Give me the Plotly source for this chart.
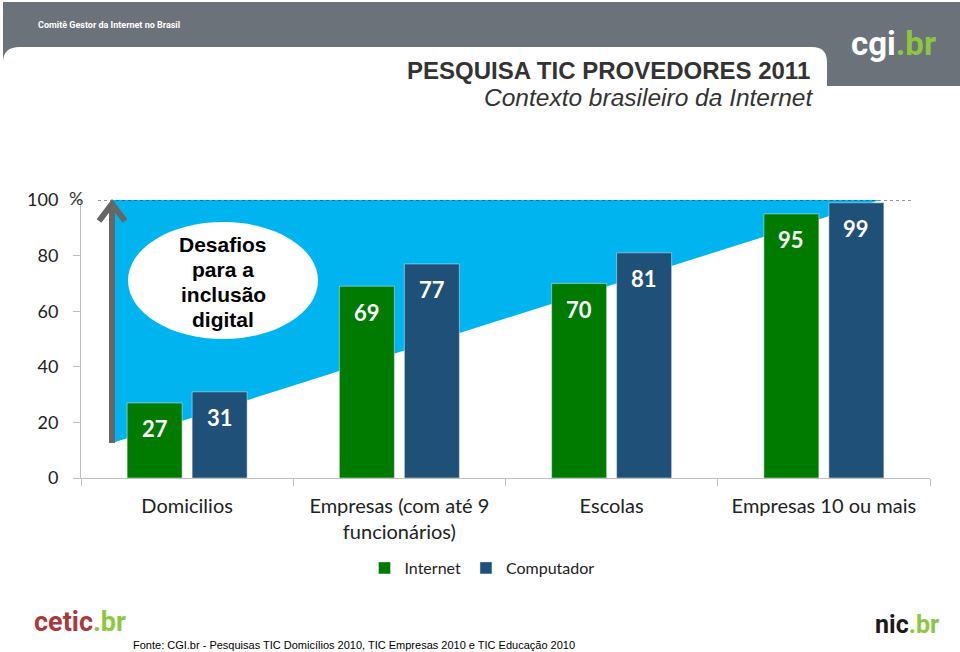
import plotly.graph_objects as go

categories = ["Domicilios", "Empresas (com até 9<br>funcionários)", "Escolas", "Empresas 10 ou mais"]
internet = [27, 69, 70, 95]
computador = [31, 77, 81, 99]
series_names = ["Internet", "Computador"]
y_ticks = [0, 20, 40, 60, 80, 100]

GREEN = "#007b00"
BLUE = "#1f5078"
CYAN = "#00b4f0"
FONT = "Lato, 'Open Sans', sans-serif"
LOGO_FONT = "Roboto, 'Liberation Sans', sans-serif"
ARIAL = "'Liberation Sans', Arial, sans-serif"

# plot area in pixels
L, R, T, B = 81, 930, 200, 478
W, H = 960, 652


def px(x):
    return (x - L) / (R - L)


def py(y):
    return (B - y) / (B - T)


def path(points, close=True):
    s = "M" + " L".join(f"{px(x):.5f},{py(y):.5f}" for x, y in points)
    return s + (" Z" if close else "")


def note(x, y, text, size, color, family=FONT, xanchor="center", yanchor="middle"):
    return dict(x=px(x), y=py(y), xref="paper", yref="paper", showarrow=False, text=text,
                xanchor=xanchor, yanchor=yanchor,
                font=dict(family=family, size=size, color=color))


fig = go.Figure()
fig.add_trace(go.Bar(x=categories, y=internet, name=series_names[0], marker_color=GREEN))
fig.add_trace(go.Bar(x=categories, y=computador, name=series_names[1], marker_color=BLUE))

shapes = []
# header
shapes.append(dict(type="rect", xref="paper", yref="paper", x0=px(3), x1=px(960), y0=py(2), y1=py(86),
                   fillcolor="#6b727a", line_width=0, layer="below"))
shapes.append(dict(type="path", xref="paper", yref="paper", layer="below",
                   path=(f"M{px(3):.5f},{py(95):.5f} L{px(3):.5f},{py(62):.5f} "
                         f"Q{px(3):.5f},{py(47):.5f} {px(20):.5f},{py(47):.5f} "
                         f"L{px(812):.5f},{py(47):.5f} Q{px(827):.5f},{py(47):.5f} {px(827):.5f},{py(62):.5f} "
                         f"L{px(827):.5f},{py(95):.5f} Z"),
                   fillcolor="white", line_width=0))
# challenge region (cyan)
shapes.append(dict(type="path", xref="paper", yref="paper", layer="below",
                   path=path([(112, 443), (112, 200), (880, 200)]),
                   fillcolor=CYAN, line_width=0))
# dotted 100% line
shapes.append(dict(type="line", xref="paper", yref="y", x0=px(98), x1=px(913), y0=100, y1=100,
                   line=dict(color="#333333", width=1, dash="dot"), layer="above"))
# arrow
shapes.append(dict(type="line", xref="paper", yref="paper", x0=px(112), x1=px(112), y0=py(443), y1=py(205),
                   line=dict(color="#666666", width=6), layer="above"))
shapes.append(dict(type="path", xref="paper", yref="paper", layer="above",
                   path=path([(99, 221), (112, 204), (125, 221)], close=False),
                   line=dict(color="#666666", width=6)))
# ellipse
shapes.append(dict(type="circle", xref="paper", yref="paper", x0=px(128), x1=px(318), y0=py(339), y1=py(222),
                   fillcolor="white", line_width=0, layer="above"))

annotations = []
# bar value labels
for vals, shift in ((internet, -32.5), (computador, 32.5)):
    for c, v in zip(categories, vals):
        annotations.append(dict(x=c, y=v, xref="x", yref="y", text=f"<b>{v}</b>", showarrow=False,
                                xshift=shift, yshift=-26, xanchor="center", yanchor="middle",
                                font=dict(family=FONT, size=22, color="white")))

bubble_lines = ["Desafios", "para a", "inclusão", "digital"]
for i, line in enumerate(bubble_lines):
    annotations.append(note(223, 244 + 25 * i, f"<b>{line}</b>", 21, "black", ARIAL))

annotations += [
    note(67, 198, "%", 18, "#333333", FONT, xanchor="left"),
    note(36, 25, "<b>Comitê Gestor da Internet no Brasil</b>", 9, "white", LOGO_FONT, xanchor="left"),
    note(812, 70, "<b>PESQUISA TIC PROVEDORES 2011</b>", 24, "#333333", ARIAL, xanchor="right"),
    note(815, 97, "<i>Contexto brasileiro da Internet</i>", 24.5, "#333333", ARIAL, xanchor="right"),
    note(893, 44, "<b>cgi<span style='color:#8dc63f'>.br</span></b>", 33, "white", LOGO_FONT),
    note(80, 622, "<b>cetic<span style='color:#8dc63f'>.br</span></b>", 27, "#a8393c", LOGO_FONT),
    note(907, 624, "<b>nic<span style='color:#8dc63f'>.br</span></b>", 25, "#1a1a1a", LOGO_FONT),
    note(131, 645, "Fonte: CGI.br - Pesquisas TIC Domicílios 2010, TIC Empresas 2010 e TIC Educação 2010",
         11, "black", ARIAL, xanchor="left"),
]

fig.update_layout(
    width=W, height=H,
    margin=dict(l=L, r=W - R, t=T, b=H - B, pad=0),
    paper_bgcolor="white", plot_bgcolor="rgba(0,0,0,0)",
    barmode="group", bargap=0.3875, bargroupgap=0.154,
    shapes=shapes, annotations=annotations,
    showlegend=True,
    legend=dict(orientation="h", x=px(482), xanchor="center", y=py(568), yanchor="middle",
                font=dict(family=FONT, size=16, color="#222222"), traceorder="normal",
                itemwidth=30, bgcolor="rgba(0,0,0,0)"),
    font=dict(family=FONT, color="#333333"),
)
fig.update_xaxes(showgrid=False, showline=True, linecolor="#bfbfbf", linewidth=1,
                 ticks="outside", tickson="boundaries", ticklen=7, tickcolor="#bfbfbf",
                 tickfont=dict(family=FONT, size=20, color="#222222"), ticklabelstandoff=10,
                 range=[-0.5, 3.5], fixedrange=True)
fig.update_yaxes(showgrid=False, showline=True, linecolor="#bfbfbf", linewidth=1,
                 ticks="outside", ticklen=7, tickcolor="#bfbfbf",
                 tickvals=y_ticks, ticktext=[str(v) for v in y_ticks],
                 tickfont=dict(family=FONT, size=18, color="#222222"), ticklabelstandoff=11,
                 range=[0, 100], zeroline=False, fixedrange=True)

fig.write_html("out.html", config={"displayModeBar": False},
               post_script="document.body.style.margin='0px';")
